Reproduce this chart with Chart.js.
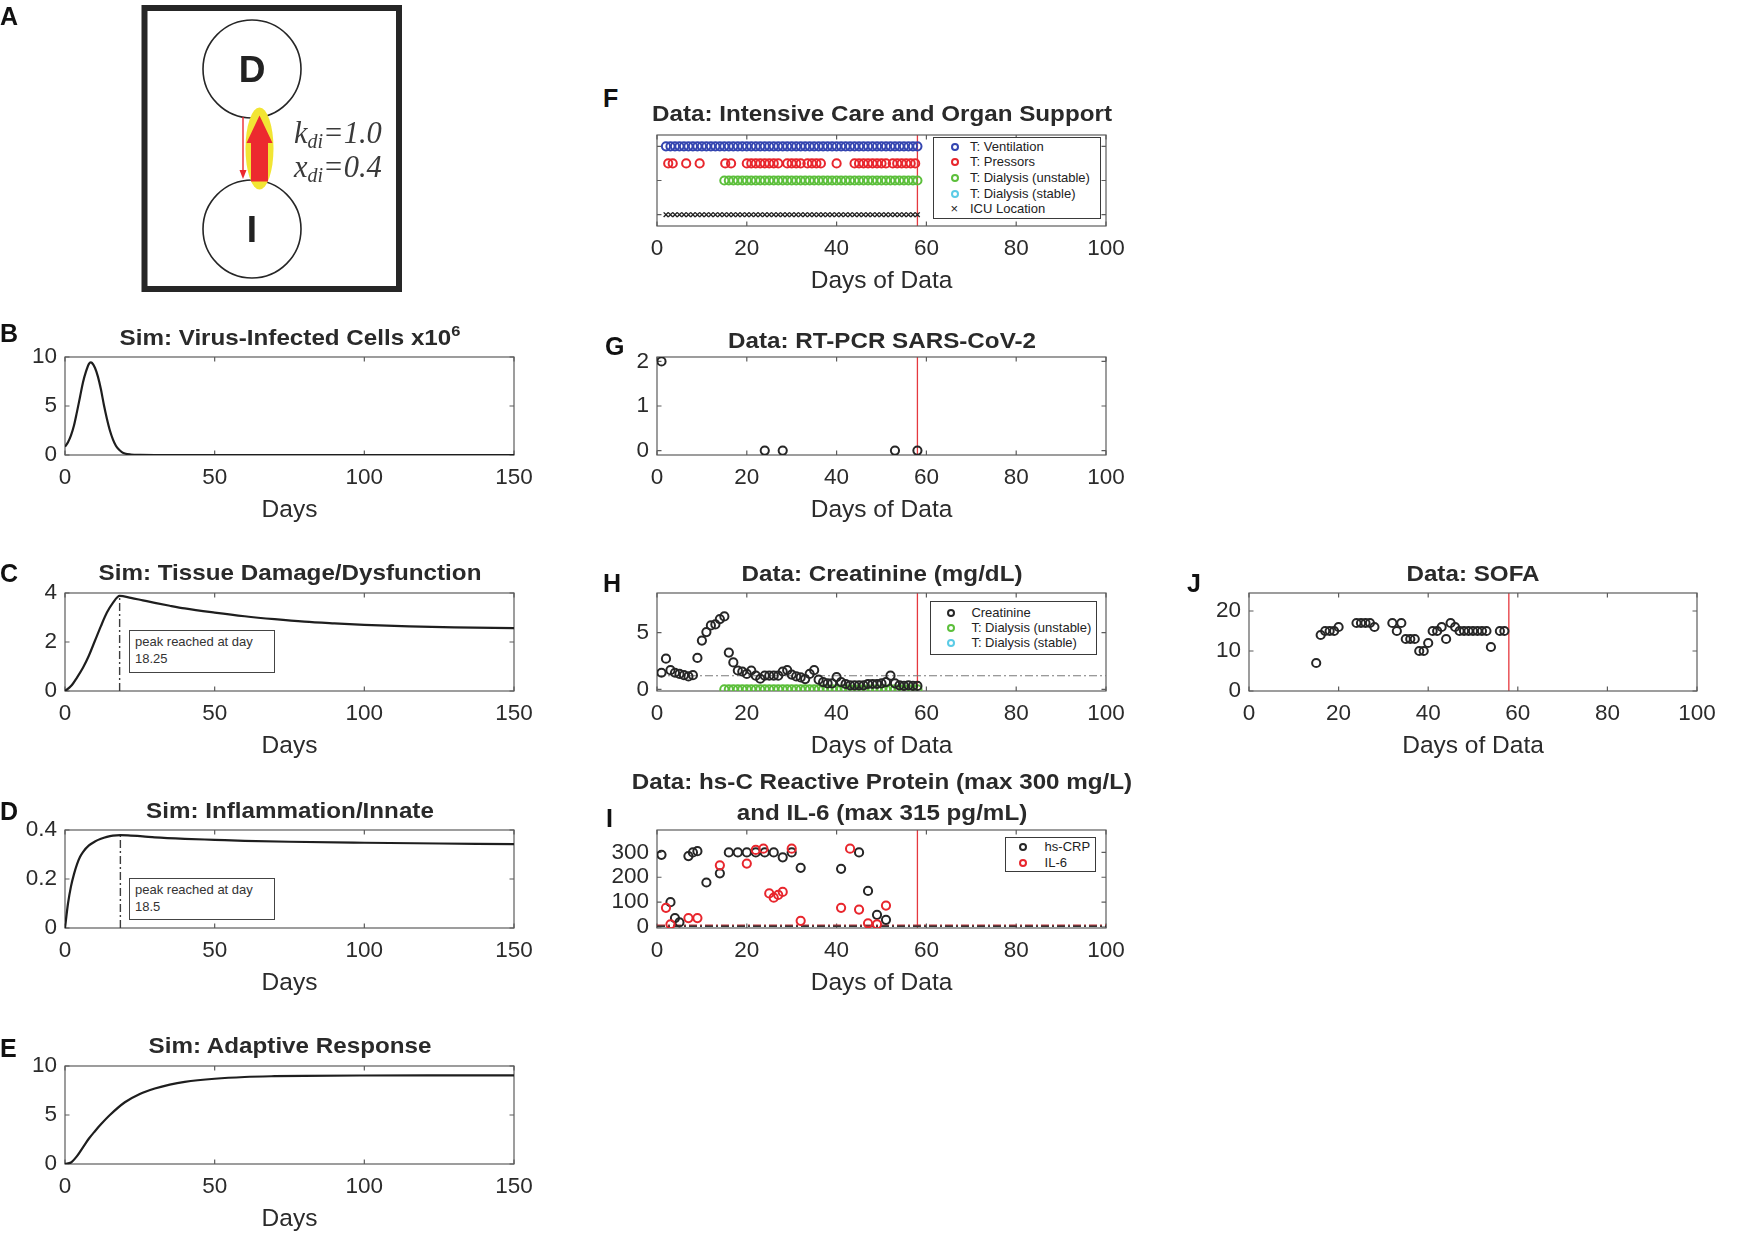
<!DOCTYPE html>
<html>
<head>
<meta charset="utf-8">
<script src="https://cdn.jsdelivr.net/npm/chart.js@4.4.0/dist/chart.umd.min.js"></script>
<style>
  html, body { margin: 0; padding: 0; background: #fff; }
  body { width: 1737px; height: 1244px; position: relative; overflow: hidden;
         font-family: 'Liberation Sans', Arial, sans-serif; color: #262626; }
  canvas.plot { position: absolute; }
  .letter { position: absolute; font-weight: bold; font-size: 25px; line-height: 1; color: #111; }
  .ttl { position: absolute; font-weight: bold; font-size: 22px; line-height: 31px; white-space: nowrap;
         transform: translateX(-50%) scaleX(1.1); transform-origin: 50% 0; color: #2a2a2a; text-align: center; }
  .ttl sup { font-size: 15px; vertical-align: 9px; line-height: 0; }
  .box { position: absolute; border: 1.3px solid #3a3a3a; background: #fff; box-sizing: border-box; }
  .lgtext { position: absolute; font-size: 13px; line-height: 16px; white-space: nowrap; color: #222; }
  .mk { position: absolute; width: 8px; height: 8px; border-radius: 50%; box-sizing: border-box; border: 2px solid #000; }
  .note { position: absolute; font-size: 13px; line-height: 16.6px; color: #333; padding: 3px 0 0 5px;
          border: 1.2px solid #444; box-sizing: border-box; background: #fff; white-space: nowrap; }
  .node { position: absolute; width: 60px; height: 60px; display: flex; align-items: center; justify-content: center;
          font-weight: bold; font-size: 37px; line-height: 1; color: #222; }
  .param { position: absolute; font-family: 'Liberation Serif', 'Times New Roman', serif; font-style: italic;
           font-size: 30.5px; line-height: 28px; color: #3a3a3a; white-space: nowrap; }
  .param sub { font-size: 20px; vertical-align: -5px; line-height: 0; }
</style>
</head>
<body>
<canvas id="diagram" width="420" height="300" style="position:absolute;left:0;top:0"></canvas>
<script>
// ---- simulation curves (panels B-E) ----
const virusDays  = [0, 1, 2, 3, 4, 5, 6, 7, 8, 8.6, 9, 10, 11, 12, 13, 14, 15, 16, 17, 18, 19, 20, 22, 25, 30, 150];
const virusCells = [0.85, 1.3, 2.0, 3.0, 4.4, 5.9, 7.4, 8.5, 9.3, 9.45, 9.4, 8.9, 8.0, 6.7, 5.1, 3.7, 2.5, 1.6, 0.95, 0.55, 0.3, 0.15, 0.05, 0.01, 0, 0];

const damageDays = [0, 2, 4, 6, 8, 10, 12, 14, 16, 18.25, 22, 26, 30, 35, 40, 50, 60, 70, 80, 90, 100, 115, 130, 150];
const damage     = [0, 0.2, 0.55, 0.95, 1.45, 2.05, 2.65, 3.2, 3.6, 3.88, 3.8, 3.7, 3.6, 3.48, 3.37, 3.2, 3.05, 2.93, 2.83, 2.76, 2.7, 2.64, 2.6, 2.57];
const damagePeakDay = 18.25;

const inflamDays = [0, 1, 2, 3, 4, 5, 6, 8, 10, 12, 14, 16, 18.5, 22, 26, 30, 40, 50, 60, 75, 100, 125, 150];
const inflam     = [0, 0.1, 0.17, 0.22, 0.26, 0.29, 0.31, 0.337, 0.353, 0.364, 0.372, 0.377, 0.379, 0.377, 0.374, 0.37, 0.364, 0.36, 0.356, 0.352, 0.348, 0.345, 0.342];
const inflamPeakDay = 18.5;

const adaptiveDays = [0, 2, 4, 6, 8, 10, 12, 15, 20, 25, 30, 35, 40, 50, 60, 70, 80, 100, 125, 150];
const adaptive     = [0, 0.15, 0.8, 1.7, 2.6, 3.35, 4.05, 5.0, 6.3, 7.15, 7.7, 8.1, 8.38, 8.7, 8.88, 8.96, 9.0, 9.03, 9.04, 9.05];

// ---- patient data (panels F-J) ----
const lastDataDay = 58;

const ventilationDays = [2, 3, 4, 5, 6, 7, 8, 9, 10, 11, 12, 13, 14, 15, 16, 17, 18, 19, 20, 21, 22, 23, 24, 25, 26, 27, 28, 29, 30,
  31, 32, 33, 34, 35, 36, 37, 38, 39, 40, 41, 42, 43, 44, 45, 46, 47, 48, 49, 50, 51, 52, 53, 54, 55, 56, 57, 58];
const pressorDays = [2.5, 3.5, 6.5, 9.5, 15.2, 16.5, 20, 21, 22, 23, 24, 25, 26, 27, 29, 30, 31, 32, 33.5, 34.5, 35.5, 36.5, 40,
  44, 45, 46, 47, 48, 49, 50, 51, 52.5, 53.5, 54.5, 55.5, 56.5, 57.5];
const dialysisDays = [15, 16, 17, 18, 19, 20, 21, 22, 23, 24, 25, 26, 27, 28, 29, 30, 31, 32, 33, 34, 35, 36, 37, 38, 39, 40,
  41, 42, 43, 44, 45, 46, 47, 48, 49, 50, 51, 52, 53, 54, 55, 56, 57, 58];
const icuDays = [2, 3, 4, 5, 6, 7, 8, 9, 10, 11, 12, 13, 14, 15, 16, 17, 18, 19, 20, 21, 22, 23, 24, 25, 26, 27, 28, 29, 30,
  31, 32, 33, 34, 35, 36, 37, 38, 39, 40, 41, 42, 43, 44, 45, 46, 47, 48, 49, 50, 51, 52, 53, 54, 55, 56, 57, 58];
// row of each support type in panel F
const ventilationRow = 2;
const pressorRow = 1.5;
const dialysisRow = 1;
const icuRow = 0;

const pcrDays   = [1, 24, 28, 53, 58];
const pcrValues = [2, 0, 0, 0, 0];

const creatinineDays = [1, 2, 3, 4, 5, 6, 7, 8, 9, 10, 11, 12, 13, 14, 15, 16, 17, 18, 19, 20, 21, 22, 23, 24, 25, 26, 27, 28, 29,
  30, 31, 32, 33, 34, 35, 36, 37, 38, 39, 40, 41, 42, 43, 44, 45, 46, 47, 48, 49, 50, 51, 52, 53, 54, 55, 56, 57, 58];
const creatinine = [1.46, 2.7, 1.69, 1.46, 1.36, 1.25, 1.14, 1.25, 2.77, 4.3, 5.05, 5.64, 5.73, 6.2, 6.43, 3.24, 2.37, 1.66, 1.57,
  1.36, 1.66, 1.2, 0.93, 1.2, 1.2, 1.2, 1.2, 1.57, 1.69, 1.3, 1.14, 1.05, 0.9, 1.36, 1.69, 0.85, 0.64, 0.53, 0.53, 1.08, 0.64,
  0.47, 0.35, 0.35, 0.35, 0.35, 0.47, 0.47, 0.47, 0.53, 0.64, 1.2, 0.53, 0.35, 0.3, 0.35, 0.3, 0.3];
const creatinineNormal = 1.2;

const crpDays = [1, 3, 4, 5, 7, 8, 9, 11, 14, 16, 18, 20, 22, 24, 26, 28, 30, 32, 41, 45, 47, 49, 51];
const crp     = [290, 100, 36, 19, 285, 300, 305, 179, 216, 300, 300, 300, 300, 300, 300, 280, 300, 238, 234, 300, 145, 49, 29];
const il6Days = [2, 3, 7, 9, 14, 20, 22, 23.7, 25, 26, 27, 28, 30, 32, 41, 43, 45, 47, 49, 51];
const il6     = [77, 11, 36, 36, 248, 255, 310, 315, 135, 118, 129, 141, 315, 25, 77, 315, 70, 15, 11, 86];
const crpNormal = 3;
const il6Normal = 7;

const sofaDays = [15, 16, 17, 18, 19, 20, 24, 25, 26, 27, 28, 32, 33, 34, 35, 36, 37, 38, 39, 40, 41, 42, 43, 44, 45, 46, 47, 48,
  49, 50, 51, 52, 53, 54, 56, 57];
const sofa = [7, 14, 15, 15, 15, 16, 17, 17, 17, 17, 16, 17, 15, 17, 13, 13, 13, 10, 10, 12, 15, 15, 16, 13, 17, 16, 15, 15,
  15, 15, 15, 15, 15, 11, 15, 15];

// ---- axes ----
const simDayRange = [0, 150];
const dataDayRange = [0, 100];
const simDayTicks = [0, 50, 100, 150];
const dataDayTicks = [0, 20, 40, 60, 80, 100];
const virusTicks = [0, 5, 10];
const damageTicks = [0, 2, 4];
const inflamTicks = [0, 0.2, 0.4];
const adaptiveTicks = [0, 5, 10];
const supportTicks = [0, 1, 2];
const pcrTicks = [0, 1, 2];
const creatinineTicks = [0, 5];
const crpTicks = [0, 100, 200, 300];
const sofaTicks = [0, 10, 20];

const FONT = "'Liberation Sans', Arial, sans-serif";
const TXT = '#2b2b2b';
const AX_LEFT = 70, AX_RIGHT = 25, AX_TOP = 20, AX_BOTTOM = 80;

function pts(xs, ys) {
  return xs.map((x, i) => ({ x: x, y: Array.isArray(ys) ? ys[i] : ys }));
}

// MATLAB style box: frame, inward ticks on all sides, red line at last data day
const matlabBox = {
  id: 'matlabBox',
  beforeDatasetsDraw(chart, args, opts) {
    const { ctx, chartArea: a } = chart;
    const xs = chart.scales.x, ys = chart.scales.y;
    ctx.save();
    if (opts.lastDay != null) {
      const px = xs.getPixelForValue(opts.lastDay);
      ctx.strokeStyle = '#e5383e';
      ctx.lineWidth = 1.3;
      ctx.beginPath();
      ctx.moveTo(px, a.top);
      ctx.lineTo(px, a.bottom);
      ctx.stroke();
    }
    ctx.strokeStyle = '#5c5c5c';
    ctx.lineWidth = 1.2;
    ctx.strokeRect(a.left, a.top, a.right - a.left, a.bottom - a.top);
    const len = 4.5;
    ctx.beginPath();
    xs.ticks.forEach(t => {
      const p = xs.getPixelForValue(t.value);
      ctx.moveTo(p, a.bottom); ctx.lineTo(p, a.bottom - len);
      ctx.moveTo(p, a.top); ctx.lineTo(p, a.top + len);
    });
    ys.ticks.forEach(t => {
      const p = ys.getPixelForValue(t.value);
      ctx.moveTo(a.left, p); ctx.lineTo(a.left + len, p);
      ctx.moveTo(a.right, p); ctx.lineTo(a.right - len, p);
    });
    ctx.stroke();
    ctx.restore();
  }
};
Chart.register(matlabBox);

function plotPanel(cfg) {
  const f = cfg.frame;
  const c = document.createElement('canvas');
  c.className = 'plot';
  const W = f.w + AX_LEFT + AX_RIGHT, H = f.h + AX_TOP + AX_BOTTOM;
  c.width = W; c.height = H;
  c.style.width = W + 'px'; c.style.height = H + 'px';
  c.style.left = (f.x - AX_LEFT) + 'px';
  c.style.top = (f.y - AX_TOP) + 'px';
  document.body.appendChild(c);
  return new Chart(c, {
    type: 'scatter',
    data: { datasets: cfg.datasets },
    options: {
      responsive: false,
      animation: false,
      events: [],
      layout: { padding: { left: 0, right: AX_RIGHT, top: AX_TOP, bottom: 0 } },
      plugins: {
        legend: { display: false },
        tooltip: { enabled: false },
        matlabBox: { lastDay: cfg.lastDay }
      },
      scales: {
        x: {
          type: 'linear', min: cfg.xRange[0], max: cfg.xRange[1],
          afterBuildTicks: s => { s.ticks = cfg.xTicks.map(v => ({ value: v })); },
          afterFit: s => { s.height = AX_BOTTOM; s.paddingLeft = 0; s.paddingRight = 0; },
          grid: { display: false, drawTicks: false },
          border: { display: false },
          ticks: { color: TXT, font: { size: 22.5, family: FONT }, padding: 9, maxRotation: 0, autoSkip: false },
          title: { display: true, text: cfg.xTitle, color: TXT, font: { size: 24.5, family: FONT },
                   padding: { top: 0, bottom: 10 } }
        },
        y: {
          type: 'linear', min: cfg.yRange[0], max: cfg.yRange[1],
          afterBuildTicks: s => { s.ticks = cfg.yTicks.map(v => ({ value: v })); },
          afterFit: s => { s.width = AX_LEFT; s.paddingTop = 0; s.paddingBottom = 0; },
          grid: { display: false, drawTicks: false },
          border: { display: false },
          ticks: {
            color: TXT, font: { size: 22.5, family: FONT }, padding: 8, autoSkip: false,
            callback: cfg.hideYLabels ? () => '' : undefined
          }
        }
      }
    }
  });
}

function curve(xs, ys) {
  return { data: pts(xs, ys), showLine: true, pointRadius: 0, borderColor: '#1e1e1e', borderWidth: 2.2,
           cubicInterpolationMode: 'monotone' };
}
function refLine(xs, ys, color, width) {
  return { data: pts(xs, ys), showLine: true, pointRadius: 0, borderColor: color, borderWidth: width || 1.3,
           borderDash: [8, 3, 2, 3] };
}
function circles(xs, ys, color) {
  return { data: pts(xs, ys), showLine: false, pointStyle: 'circle', pointRadius: 4.1, pointBorderWidth: 2,
           pointBorderColor: color, pointBackgroundColor: 'rgba(0,0,0,0)' };
}

const BLACK = '#262626', RED = '#e8262d', BLUE = '#3445b0', GREEN = '#5cbf3b', CYAN = '#5bcbe6';

// frames of the plot boxes on the page
const colL = { x: 65, w: 449 }, colM = { x: 657, w: 449 }, colR = { x: 1249, w: 448 };

// B
plotPanel({ frame: { x: colL.x, w: colL.w, y: 357, h: 98 }, xRange: simDayRange, xTicks: simDayTicks,
  yRange: [0, 10], yTicks: virusTicks, xTitle: 'Days',
  datasets: [curve(virusDays, virusCells)] });
// C
plotPanel({ frame: { x: colL.x, w: colL.w, y: 593, h: 98 }, xRange: simDayRange, xTicks: simDayTicks,
  yRange: [0, 4], yTicks: damageTicks, xTitle: 'Days',
  datasets: [curve(damageDays, damage),
             refLine([damagePeakDay, damagePeakDay], [0, Math.max(...damage)], '#3c3c3c', 1.4)] });
// D
plotPanel({ frame: { x: colL.x, w: colL.w, y: 830, h: 98 }, xRange: simDayRange, xTicks: simDayTicks,
  yRange: [0, 0.4], yTicks: inflamTicks, xTitle: 'Days',
  datasets: [curve(inflamDays, inflam),
             refLine([inflamPeakDay, inflamPeakDay], [0, Math.max(...inflam)], '#3c3c3c', 1.4)] });
// E
plotPanel({ frame: { x: colL.x, w: colL.w, y: 1066, h: 98 }, xRange: simDayRange, xTicks: simDayTicks,
  yRange: [0, 10], yTicks: adaptiveTicks, xTitle: 'Days',
  datasets: [curve(adaptiveDays, adaptive)] });

// F
plotPanel({ frame: { x: colM.x, w: colM.w, y: 135, h: 91 }, xRange: dataDayRange, xTicks: dataDayTicks,
  yRange: [-0.33, 2.33], yTicks: supportTicks, xTitle: 'Days of Data', hideYLabels: true, lastDay: lastDataDay,
  datasets: [
    circles(ventilationDays, ventilationRow, BLUE),
    circles(pressorDays, pressorRow, RED),
    circles(dialysisDays, dialysisRow, GREEN),
    { data: pts(icuDays, icuRow), showLine: false, pointStyle: 'crossRot', pointRadius: 3.3, pointBorderWidth: 1.4,
      pointBorderColor: '#222' }
  ] });
// G
plotPanel({ frame: { x: colM.x, w: colM.w, y: 357, h: 98 }, xRange: dataDayRange, xTicks: dataDayTicks,
  yRange: [-0.1, 2.1], yTicks: pcrTicks, xTitle: 'Days of Data', lastDay: lastDataDay,
  datasets: [circles(pcrDays, pcrValues, BLACK)] });
// H
plotPanel({ frame: { x: colM.x, w: colM.w, y: 593, h: 98 }, xRange: dataDayRange, xTicks: dataDayTicks,
  yRange: [-0.15, 8.5], yTicks: creatinineTicks, xTitle: 'Days of Data', lastDay: lastDataDay,
  datasets: [
    circles(creatinineDays, creatinine, BLACK),
    circles(dialysisDays, 0, GREEN),
    refLine(dataDayRange, creatinineNormal, '#7a7a7a', 1.1)
  ] });
// I
plotPanel({ frame: { x: colM.x, w: colM.w, y: 830, h: 98 }, xRange: dataDayRange, xTicks: dataDayTicks,
  yRange: [-4, 390], yTicks: crpTicks, xTitle: 'Days of Data', lastDay: lastDataDay,
  datasets: [
    circles(il6Days, il6, RED),
    circles(crpDays, crp, BLACK),
    refLine(dataDayRange, crpNormal, '#333', 1.4),
    refLine(dataDayRange, il6Normal, '#b8343a', 1.4)
  ] });
// J
plotPanel({ frame: { x: colR.x, w: colR.w, y: 593, h: 98 }, xRange: dataDayRange, xTicks: dataDayTicks,
  yRange: [0, 24.5], yTicks: sofaTicks, xTitle: 'Days of Data', lastDay: lastDataDay,
  datasets: [circles(sofaDays, sofa, BLACK)] });

// ---- text overlays ----
function addDiv(cls, html, left, top, extra) {
  const d = document.createElement('div');
  d.className = cls;
  d.innerHTML = html;
  d.style.left = left + 'px';
  d.style.top = top + 'px';
  if (extra) Object.assign(d.style, extra);
  document.body.appendChild(d);
  return d;
}

[['A', 0, 4], ['B', 0, 321], ['C', 0, 561], ['D', 0, 799], ['E', 0, 1036],
 ['F', 603, 86], ['G', 605, 334], ['H', 603, 571], ['I', 606, 806], ['J', 1187, 571]]
  .forEach(([t, x, y]) => addDiv('letter', t, x, y));

const midL = colL.x + colL.w / 2, midM = colM.x + colM.w / 2, midR = colR.x + colR.w / 2;
addDiv('ttl', 'Sim: Virus-Infected Cells x10<sup>6</sup>', midL, 322);
addDiv('ttl', 'Sim: Tissue Damage/Dysfunction', midL, 557);
addDiv('ttl', 'Sim: Inflammation/Innate', midL, 795);
addDiv('ttl', 'Sim: Adaptive Response', midL, 1030);
addDiv('ttl', 'Data: Intensive Care and Organ Support', midM, 98);
addDiv('ttl', 'Data: RT-PCR SARS-CoV-2', midM, 325);
addDiv('ttl', 'Data: Creatinine (mg/dL)', midM, 558);
addDiv('ttl', 'Data: hs-C Reactive Protein (max 300 mg/L)<br>and IL-6 (max 315 pg/mL)', midM, 766);
addDiv('ttl', 'Data: SOFA', midR, 558);

addDiv('note', 'peak reached at day<br>18.25', 129, 630, { width: '146px', height: '43px' });
addDiv('note', 'peak reached at day<br>18.5', 129, 878, { width: '146px', height: '42px' });

function legend(left, top, w, h, markX, textX, rowY, step, entries) {
  addDiv('box', '', left, top, { width: w + 'px', height: h + 'px' });
  entries.forEach((e, i) => {
    const cy = rowY + i * step;
    if (e.cross) {
      addDiv('lgtext', '×', markX - 4, cy - 8, { fontSize: '13px', color: '#222' });
    } else {
      addDiv('mk', '', markX - 4, cy - 4, { borderColor: e.color });
    }
    addDiv('lgtext', e.text, textX, cy - 8);
  });
}
legend(933, 137, 168, 82, 954.5, 970, 146.7, 15.6, [
  { text: 'T: Ventilation', color: BLUE },
  { text: 'T: Pressors', color: RED },
  { text: 'T: Dialysis (unstable)', color: GREEN },
  { text: 'T: Dialysis (stable)', color: CYAN },
  { text: 'ICU Location', cross: true }
]);
legend(930, 601, 167, 54, 950.7, 971.4, 613.3, 15, [
  { text: 'Creatinine', color: BLACK },
  { text: 'T: Dialysis (unstable)', color: GREEN },
  { text: 'T: Dialysis (stable)', color: CYAN }
]);
legend(1005, 837, 91, 35, 1023, 1044.6, 846.7, 16.6, [
  { text: 'hs-CRP', color: BLACK },
  { text: 'IL-6', color: RED }
]);

// ---- panel A: damage / inflammation diagram ----
const g = document.getElementById('diagram').getContext('2d');
g.strokeStyle = '#262626';
g.lineWidth = 6;
g.strokeRect(144.5, 8, 254.5, 281);
g.lineWidth = 1.6;
g.beginPath(); g.arc(252, 69, 49, 0, 2 * Math.PI); g.stroke();
g.beginPath(); g.arc(252, 229, 49, 0, 2 * Math.PI); g.stroke();
g.fillStyle = '#f2e534';
g.beginPath(); g.ellipse(259.5, 148.5, 14, 41, 0, 0, 2 * Math.PI); g.fill();
g.fillStyle = '#ec2a2f';
g.beginPath();
g.moveTo(251, 181.5); g.lineTo(251, 143); g.lineTo(246.5, 143); g.lineTo(259.5, 115.5);
g.lineTo(272.5, 143); g.lineTo(268, 143); g.lineTo(268, 181.5); g.closePath(); g.fill();
g.strokeStyle = '#ec2a2f';
g.lineWidth = 1.4;
g.beginPath(); g.moveTo(243, 117); g.lineTo(243, 172); g.stroke();
g.beginPath(); g.moveTo(239.5, 170); g.lineTo(246.5, 170); g.lineTo(243, 179); g.closePath(); g.fill();

addDiv('node', 'D', 222, 39);
addDiv('node', 'I', 222, 199);
addDiv('param', 'k<sub>di</sub>=1.0', 294, 119);
addDiv('param', 'x<sub>di</sub>=0.4', 294, 153);
</script>
</body>
</html>
